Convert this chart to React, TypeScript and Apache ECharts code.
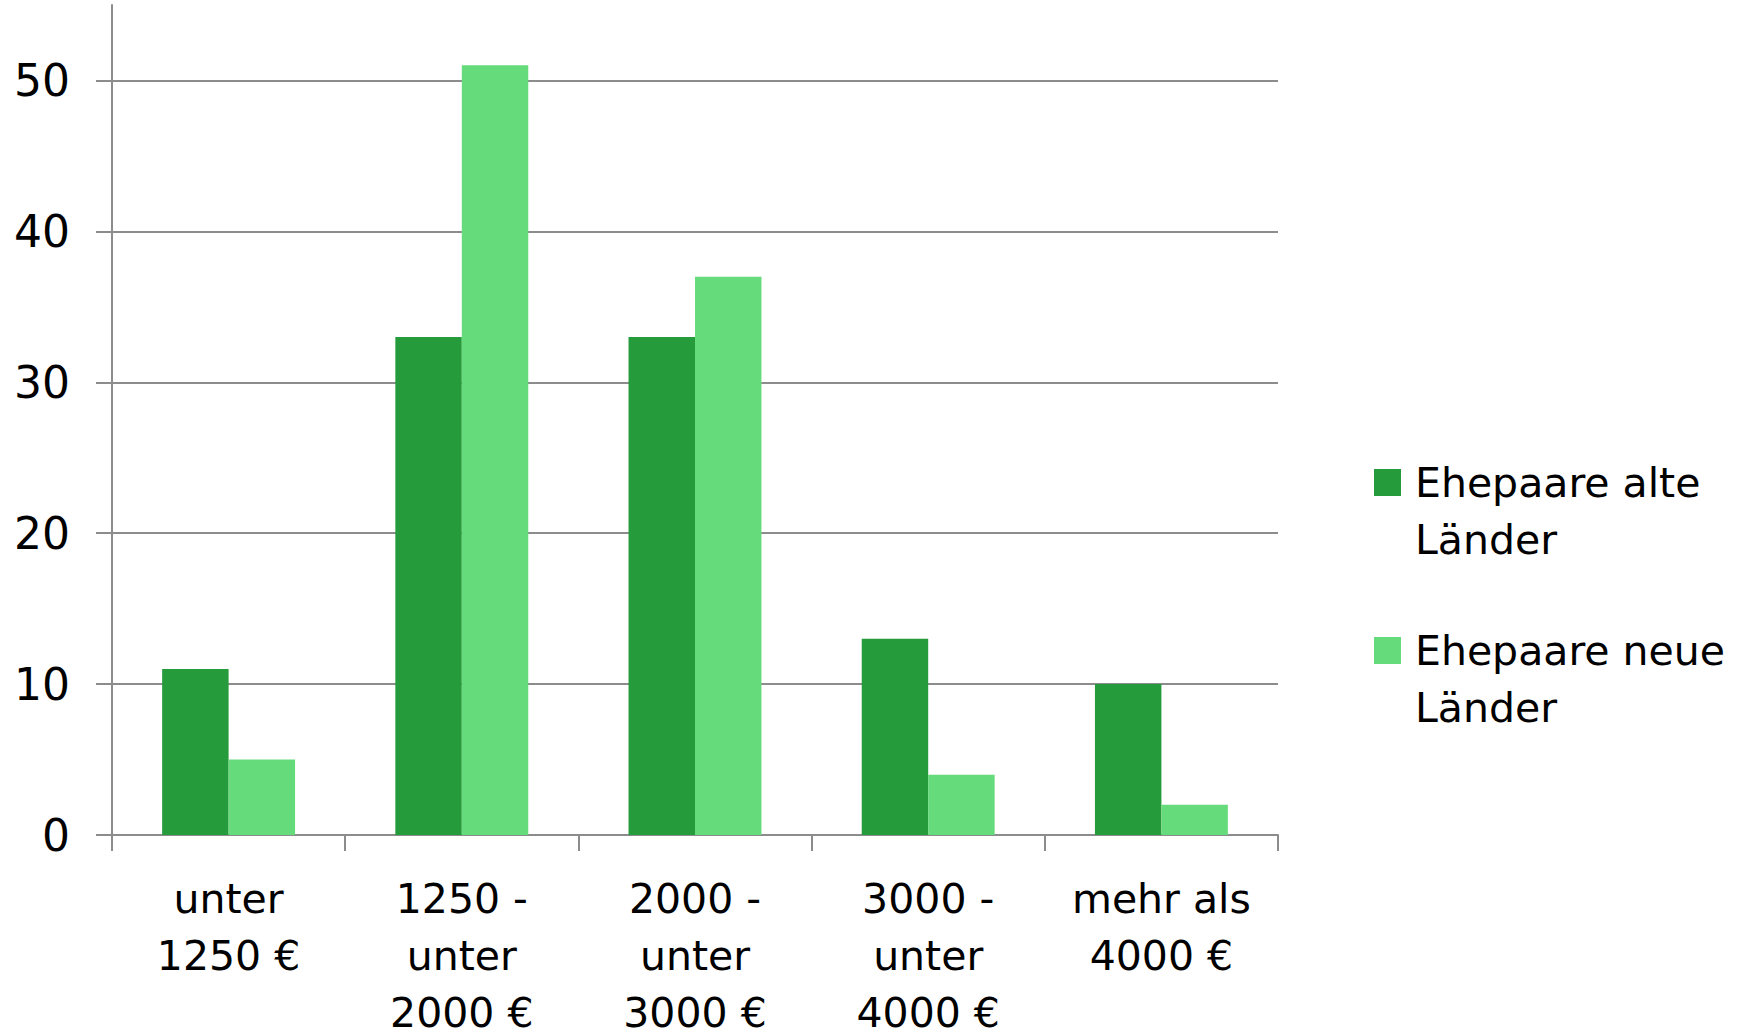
import React, { useEffect, useRef } from "react";
import * as echarts from "echarts";

// Einkommensgruppen (Haushaltsnettoeinkommen) und Anteile in %
const categories = [
  "unter\n1250 €",
  "1250 -\nunter\n2000 €",
  "2000 -\nunter\n3000 €",
  "3000 -\nunter\n4000 €",
  "mehr als\n4000 €",
];
const seriesNames = ["Ehepaare alte\nLänder", "Ehepaare neue\nLänder"];
const alteLaender = [11, 33, 33, 13, 10];
const neueLaender = [5, 51, 37, 4, 2];
const yTicks = [0, 10, 20, 30, 40, 50];

const DARK = "#259b3b";
const LIGHT = "#66db7b";
const SERIES_COLORS = [DARK, LIGHT];
const GRID_GRAY = "#8c8c8c";
const FONT = "DejaVu Sans";

// Legend drawn as graphic elements so the swatch sits beside the first text line
function legendGraphics() {
  const left = 1374;
  const top = 469;
  const step = 168;
  const swatch = 27;
  const elements: any[] = [];
  seriesNames.forEach((name, i) => {
    const y = top + i * step;
    elements.push({
      type: "rect",
      left,
      top: y,
      shape: { width: swatch, height: swatch },
      style: { fill: SERIES_COLORS[i] },
      silent: true,
    });
    elements.push({
      type: "text",
      left: left + swatch + 14,
      top: y - 15,
      style: {
        text: name,
        font: `41px "${FONT}"`,
        fill: "#000",
        lineHeight: 57,
        verticalAlign: "top",
      },
      silent: true,
    });
  });
  return elements;
}

export default function App() {
  const ref = useRef<HTMLDivElement>(null);

  useEffect(() => {
    document.body.style.margin = "0";
    if (!ref.current) return;
    const chart = echarts.init(ref.current, null, { renderer: "svg" });
    chart.setOption({
      animation: false,
      backgroundColor: "#ffffff",
      textStyle: { fontFamily: FONT, color: "#000" },
      grid: {
        left: 112,
        right: 468,
        top: 5,
        bottom: 201,
        containLabel: false,
        outerBoundsMode: "none",
      },
      graphic: legendGraphics(),
      xAxis: {
        type: "category",
        data: categories,
        axisLine: { show: true, lineStyle: { color: GRID_GRAY, width: 2 } },
        axisTick: { show: true, length: 16, lineStyle: { color: GRID_GRAY, width: 2 } },
        axisLabel: {
          interval: 0,
          margin: 35,
          fontFamily: FONT,
          fontSize: 41,
          lineHeight: 57,
          color: "#000",
        },
      },
      yAxis: {
        type: "value",
        min: 0,
        max: 55,
        interval: 10,
        axisLine: { show: true, lineStyle: { color: GRID_GRAY, width: 2 } },
        axisTick: {
          show: true,
          length: 16,
          customValues: yTicks,
          lineStyle: { color: GRID_GRAY, width: 2 },
        },
        axisLabel: {
          margin: 42,
          customValues: yTicks,
          fontFamily: FONT,
          fontSize: 44,
          color: "#000",
        },
        splitLine: {
          show: true,
          lineStyle: { color: GRID_GRAY, width: 2 },
        },
      },
      series: [
        {
          name: seriesNames[0],
          type: "bar",
          data: alteLaender,
          itemStyle: { color: DARK },
          barGap: "0%",
          barCategoryGap: "43%",
        },
        {
          name: seriesNames[1],
          type: "bar",
          data: neueLaender,
          itemStyle: { color: LIGHT },
          barGap: "0%",
          barCategoryGap: "43%",
        },
      ],
    });
    return () => chart.dispose();
  }, []);

  return <div ref={ref} style={{ width: 1746, height: 1036 }} />;
}
